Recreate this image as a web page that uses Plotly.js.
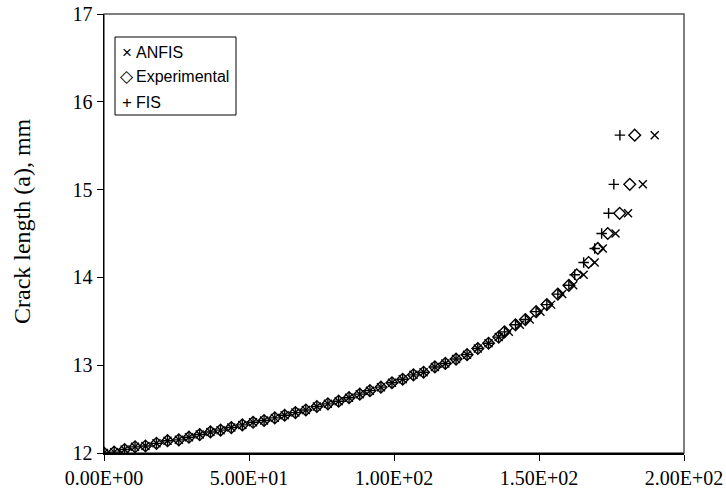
<!DOCTYPE html>
<html>
<head>
<meta charset="utf-8">
<script src="https://cdn.plot.ly/plotly-3.0.1.min.js"></script>
<style>html,body{margin:0;padding:0;background:#fff;}#chart{width:726px;height:498px;}</style>
</head>
<body>
<div id="chart"></div>
<script>
// Crack length (mm)
var crackLength = [12.00, 12.01, 12.04, 12.07, 12.08, 12.11, 12.14, 12.15, 12.18, 12.21,
  12.24, 12.26, 12.29, 12.32, 12.35, 12.37, 12.40, 12.43, 12.46, 12.49,
  12.53, 12.56, 12.59, 12.63, 12.67, 12.71, 12.75, 12.80, 12.84, 12.89,
  12.92, 12.98, 13.02, 13.07, 13.12, 13.19, 13.25, 13.32, 13.38, 13.46,
  13.52, 13.61, 13.69, 13.81, 13.91, 14.03, 14.17, 14.33, 14.50, 14.73,
  15.06, 15.62];

var xExperimental = [0, 3.5, 7.1, 10.7, 14.3, 18.1, 21.9, 25.8, 29.3, 33.0,
  36.7, 40.2, 43.9, 47.7, 51.4, 55.2, 58.9, 62.3, 66.0, 69.6,
  73.4, 77.2, 80.9, 84.5, 88.2, 91.7, 95.5, 99.3, 103.0, 106.7,
  110.2, 114.1, 117.7, 121.4, 125.2, 128.9, 132.6, 136.1, 138.1, 141.9,
  145.3, 149.0, 152.7, 156.5, 160.3, 163.0, 167.1, 170.3, 173.7, 177.8,
  181.3, 183.0];

var xFIS = [0, 3.5, 7.1, 10.7, 14.3, 18.1, 21.9, 25.8, 29.3, 33.0,
  36.7, 40.2, 43.9, 47.7, 51.4, 55.2, 58.9, 62.3, 66.0, 69.6,
  73.4, 77.2, 80.9, 84.5, 88.2, 91.7, 95.5, 99.3, 103.0, 106.7,
  110.2, 114.1, 117.7, 121.4, 125.2, 128.9, 132.6, 136.1, 138.1, 141.9,
  145.3, 149.0, 152.7, 156.5, 160.3, 162.3, 165.4, 169.2, 171.6, 174.0,
  175.8, 177.9];

var xANFIS = [0, 3.5, 7.1, 10.7, 14.3, 18.1, 21.9, 25.8, 29.3, 33.0,
  36.7, 40.2, 43.9, 47.7, 51.4, 55.2, 58.9, 62.3, 66.0, 69.6,
  73.4, 77.2, 80.9, 84.5, 88.2, 91.7, 95.5, 99.3, 103.0, 106.7,
  110.2, 114.1, 117.7, 121.4, 125.2, 128.9, 132.6, 136.1, 139.6, 143.4,
  146.8, 150.5, 154.2, 158.0, 161.8, 165.4, 169.2, 172.0, 176.4, 180.7,
  185.8, 189.9];

var seriesNames = ['ANFIS', 'Experimental', 'FIS'];
var legendGlyphs = ['\u00D7', '\u25C7', '+'];

var xTickVals = [0, 50, 100, 150, 200];
var xTickText = ['0.00E+00', '5.00E+01', '1.00E+02', '1.50E+02', '2.00E+02'];
var yTickVals = [12, 13, 14, 15, 16, 17];
var yTitle = 'Crack length (a), mm';

var serif = 'Liberation Serif, Times New Roman, serif';
var sans = 'Liberation Sans, Arial, sans-serif';

var traces = [
  {x: xANFIS, y: crackLength, name: seriesNames[0], type: 'scatter', mode: 'markers',
   marker: {symbol: 'x-thin-open', size: 8, color: '#000', line: {color: '#000', width: 1.4}}},
  {x: xExperimental, y: crackLength, name: seriesNames[1], type: 'scatter', mode: 'markers',
   marker: {symbol: 'diamond-open', size: 9, color: '#000', line: {color: '#000', width: 1.4}}},
  {x: xFIS, y: crackLength, name: seriesNames[2], type: 'scatter', mode: 'markers',
   marker: {symbol: 'cross-thin-open', size: 7.5, color: '#000', line: {color: '#000', width: 1.4}}}
];

var axisCommon = {
  showgrid: false, zeroline: false, showline: true, linecolor: '#000', linewidth: 1.5,
  ticks: 'outside', ticklen: 6, tickwidth: 1, tickcolor: '#000',
  tickfont: {family: serif, size: 20, color: '#000'}
};

// custom legend (box + entries) to match the compact original
var plotL = 104, plotW = 580, plotB = 453, plotH = 439;
function px2x(p) { return (p - plotL) / plotW; }
function px2y(p) { return (plotB - p) / plotH; }
var entryY = [52, 77, 102];
var annotations = [];
for (var i = 0; i < seriesNames.length; i++) {
  annotations.push({xref: 'paper', yref: 'paper', x: px2x(126.5), y: px2y(entryY[i]), xanchor: 'center', yanchor: 'middle',
    text: legendGlyphs[i], showarrow: false, font: {family: sans, size: 17, color: '#000'}});
  annotations.push({xref: 'paper', yref: 'paper', x: px2x(134), y: px2y(entryY[i]), xanchor: 'left', yanchor: 'middle',
    text: seriesNames[i], showarrow: false, font: {family: sans, size: 16, color: '#000'}});
}
annotations.push({xref: 'paper', yref: 'paper', x: 0, xshift: -82, y: px2y(221), xanchor: 'center', yanchor: 'middle',
  textangle: -90, text: yTitle, showarrow: false, font: {family: serif, size: 24, color: '#000'}});

var layout = {
  width: 726, height: 498,
  margin: {l: 104, r: 42, t: 14, b: 45},
  paper_bgcolor: '#fff', plot_bgcolor: '#fff',
  showlegend: false,
  xaxis: Object.assign({}, axisCommon, {range: [0, 200], tickmode: 'array', tickvals: xTickVals, ticktext: xTickText}),
  yaxis: Object.assign({}, axisCommon, {range: [12, 17], tickmode: 'array', tickvals: yTickVals}),
  annotations: annotations,
  shapes: [
    {type: 'rect', xref: 'paper', yref: 'paper', x0: 0, x1: 1, y0: 0, y1: 1,
     line: {color: '#555', width: 1.5}, layer: 'below'},
    {type: 'rect', xref: 'paper', yref: 'paper', x0: px2x(115), x1: px2x(236), y0: px2y(115), y1: px2y(37),
     line: {color: '#000', width: 1}, fillcolor: '#fff', layer: 'above'}
  ]
};

Plotly.newPlot('chart', traces, layout, {displayModeBar: false, staticPlot: true});
</script>
</body>
</html>
